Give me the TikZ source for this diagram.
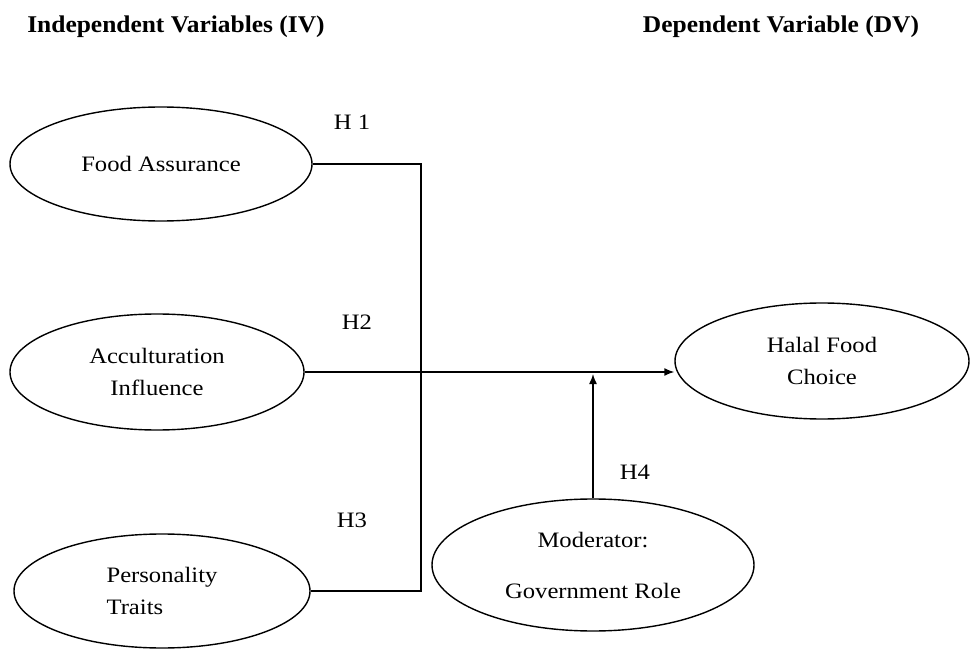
\documentclass[tikz,border=0pt]{standalone}
\usepackage{fontspec}
\setmainfont{Liberation Serif}[FakeStretch=1.12]
\newfontfamily\titlefont{Liberation Serif}[FakeStretch=1.06]
\usetikzlibrary{shapes.geometric,arrows.meta}
\tikzset{
  oval/.style={ellipse, draw, line width=1.4pt, inner sep=0pt, align=center,
    font=\fontsize{22}{32}\selectfont},
  conn/.style={line width=1.4pt},
  arr/.style={line width=1.4pt, -{Latex[length=10pt,width=8pt]}},
  hyp/.style={font=\fontsize{22}{26}\selectfont},
  ttl/.style={font=\titlefont\fontsize{24}{28}\selectfont\bfseries}
}
\begin{document}
\begin{tikzpicture}[x=1pt,y=-1pt]
\useasboundingbox (0,0) rectangle (970,650);
\node[ttl] (t1) at (176,27) {Independent Variables (IV)};
\node[ttl] (t2) at (781,27) {Dependent Variable (DV)};

\node[oval, minimum width=302pt, minimum height=114pt] (fa) at (161,164) {Food Assurance};
\node[oval, minimum width=294pt, minimum height=116pt] (ai) at (157,372) {Acculturation\\Influence};
\node[oval, minimum width=296pt, minimum height=114pt, align=left] (pt) at (162,591) {Personality\\Traits};
\node[oval, minimum width=294pt, minimum height=116pt] (hf) at (822,361) {Halal Food\\Choice};
\node[oval, minimum width=322pt, minimum height=132pt, font=\fontsize{22}{51}\selectfont] (mg) at (593,565) {Moderator:\\Government Role};

\node[hyp] (h1) at (352,122) {H 1};
\node[hyp] (h2) at (357,322) {H2};
\node[hyp] (h3) at (352,520) {H3};
\node[hyp] (h4) at (635,472) {H4};

\coordinate (vx) at (421,0);
\draw[conn] (fa.east) -- (fa.east -| vx) -- (vx |- pt.east) -- (pt.east);
\draw[arr] (ai.east) -- (ai.east -| hf.west);
\draw[arr, shorten >=2pt] (mg.north) -- (mg.north |- ai.east);
\end{tikzpicture}
\end{document}
